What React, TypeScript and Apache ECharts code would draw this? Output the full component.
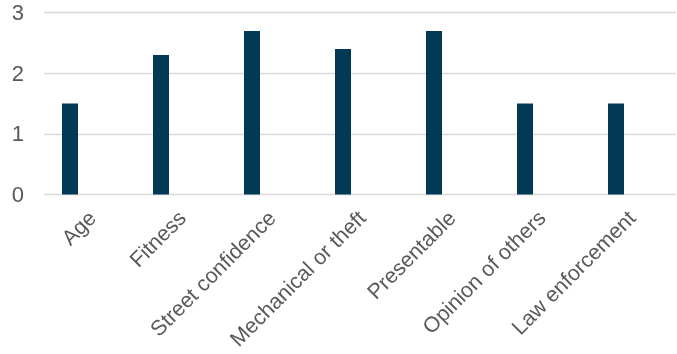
import React, { useEffect, useRef } from "react";
import * as echarts from "echarts";

const categories = [
  "Age",
  "Fitness",
  "Street confidence",
  "Mechanical or theft",
  "Presentable",
  "Opinion of others",
  "Law enforcement",
];
const values = [1.5, 2.3, 2.7, 2.4, 2.7, 1.5, 1.5];
const yTicks = [0, 1, 2, 3];

export default function App() {
  const ref = useRef<HTMLDivElement>(null);
  useEffect(() => {
    if (!ref.current) return;
    const chart = echarts.init(ref.current, undefined, { renderer: "svg" });
    const top = 12.7;
    const bottom = 354 - 194.5;
    const labelColor = "#595959";
    const font = "Liberation Sans, Arial, sans-serif";
    chart.setOption({
      animation: false,
      grid: [
        { left: 44, right: 1, top, bottom },
        { left: 24.5, width: 637, top, bottom },
        { left: 24.5 + 23, width: 637, top, bottom },
      ],
      xAxis: [
        { gridIndex: 0, type: "value", show: false, min: 0, max: 1 },
        {
          gridIndex: 1,
          type: "category",
          data: categories,
          axisLine: { show: false },
          axisTick: { show: false },
          axisLabel: { show: false },
        },
        {
          gridIndex: 2,
          type: "category",
          data: categories,
          axisLine: { show: false },
          axisTick: { show: false },
          axisLabel: {
            rotate: 45,
            interval: 0,
            margin: 20,
            color: labelColor,
            fontSize: 21.5,
            fontFamily: font,
          },
        },
      ],
      yAxis: [
        {
          gridIndex: 0,
          type: "value",
          min: yTicks[0],
          max: yTicks[yTicks.length - 1],
          interval: 1,
          axisLine: { show: false },
          axisTick: { show: false },
          axisLabel: {
            margin: 20,
            color: labelColor,
            fontSize: 22,
            fontFamily: font,
          },
          splitLine: { lineStyle: { color: "#d9d9d9", width: 1.3 } },
        },
        {
          gridIndex: 1,
          type: "value",
          min: 0,
          max: 3,
          interval: 1,
          show: false,
          splitLine: { show: false },
        },
        {
          gridIndex: 2,
          type: "value",
          min: 0,
          max: 3,
          show: false,
          splitLine: { show: false },
        },
      ],
      series: [
        {
          type: "bar",
          xAxisIndex: 1,
          yAxisIndex: 1,
          data: values,
          barWidth: 16,
          itemStyle: { color: "#023a56" },
        },
      ],
    });
    return () => chart.dispose();
  }, []);
  return (
    <div
      ref={ref}
      style={{ position: "fixed", left: 0, top: 0, width: 677, height: 354 }}
    />
  );
}
